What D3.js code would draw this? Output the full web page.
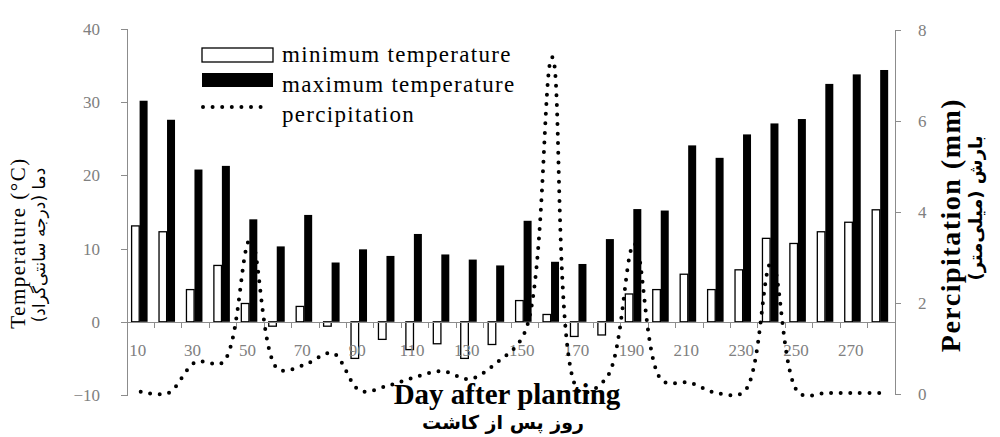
<!DOCTYPE html>
<html lang="en">
<head>
  <meta charset="UTF-8">
  <title>Temperature and Percipitation</title>
  <script src="https://d3js.org/d3.v7.min.js"></script>
  <style>
    body {
      margin: 0;
      background: #fff;
      font-family: "Liberation Serif", "Times New Roman", serif;
    }

    .axis path,
    .axis line {
      stroke: #8c8c8c;
      shape-rendering: crispEdges;
    }

    .axis text {
      font-family: "Liberation Serif", serif;
      font-size: 17px;
      fill: #808080;
    }

    .fa {
      font-family: "DejaVu Sans", sans-serif;
    }
  </style>
</head>
<body>
  <div id="chart"></div>

  <script>
    // Day after planting
    const categories = [10, 20, 30, 40, 50, 60, 70, 80, 90, 100, 110, 120, 130, 140,
                        150, 160, 170, 180, 190, 200, 210, 220, 230, 240, 250, 260, 270, 280];

    // Temperatures (°C)
    const minTemp = [13.1, 12.3, 4.4, 7.7, 2.5, -0.6, 2.1, -0.6, -5.0, -2.4, -3.8, -3.0, -5.0, -3.1,
                     2.9, 1.0, -2.0, -1.8, 3.8, 4.4, 6.5, 4.4, 7.1, 11.4, 10.7, 12.3, 13.6, 15.3];
    const maxTemp = [30.2, 27.6, 20.8, 21.3, 14.0, 10.3, 14.6, 8.1, 9.9, 9.0, 12.0, 9.2, 8.5, 7.7,
                     13.8, 8.2, 7.9, 11.3, 15.4, 15.2, 24.1, 22.4, 25.6, 27.1, 27.7, 32.5, 33.8, 34.4];

    // Percipitation (mm)
    const precip = [0.05, 0.02, 0.7, 0.7, 3.4, 0.55, 0.65, 0.9, 0.07, 0.18, 0.37, 0.5, 0.33, 0.7,
                    1.35, 7.4, 0.05, 0.37, 3.3, 0.3, 0.25, 0.02, 0.05, 2.9, 0.02, 0.02, 0.02, 0.02];

    // Tick labels
    const tempTicks = [-10, 0, 10, 20, 30, 40];
    const precipTicks = [0, 2, 4, 6, 8];
    const dayLabels = [10, 30, 50, 70, 90, 110, 130, 150, 170, 190, 210, 230, 250, 270];

    const width = 1000;
    const height = 437;
    const plot = { left: 127, right: 895, top: 29, bottom: 395 };

    const svg = d3.select("#chart")
                  .append("svg")
                  .attr("width", width)
                  .attr("height", height);

    // Scales
    const x = d3.scaleBand()
                .domain(categories)
                .range([plot.left, plot.right])
                .padding(0);

    const xSub = d3.scaleBand()
                   .domain(["min", "max"])
                   .range([4.6, 20.6]);

    const yTemp = d3.scaleLinear()
                    .domain([-10, 40])
                    .range([plot.bottom, plot.top]);

    const yPrec = d3.scaleLinear()
                    .domain([0, 8])
                    .range([plot.bottom - 1, plot.top + 1]);

    const rows = categories.map((c, i) => ({ day: c, min: minTemp[i], max: maxTemp[i], p: precip[i] }));

    // Bars
    const groups = svg.append("g")
       .selectAll("g")
       .data(rows)
       .enter()
       .append("g")
       .attr("transform", d => `translate(${x(d.day)},0)`);

    groups.append("rect")
       .attr("x", xSub("min"))
       .attr("width", xSub.bandwidth() - 0.4)
       .attr("y", d => yTemp(Math.max(0, d.min)))
       .attr("height", d => Math.abs(yTemp(d.min) - yTemp(0)))
       .attr("fill", "#fff")
       .attr("stroke", "#000")
       .attr("stroke-width", 1.3);

    groups.append("rect")
       .attr("x", xSub("max"))
       .attr("width", xSub.bandwidth())
       .attr("y", d => yTemp(Math.max(0, d.max)))
       .attr("height", d => Math.abs(yTemp(d.max) - yTemp(0)))
       .attr("fill", "#000");

    // Left axis
    svg.append("g")
       .attr("class", "axis")
       .attr("transform", `translate(${plot.left},0)`)
       .call(d3.axisLeft(yTemp).tickValues(tempTicks).tickSize(6).tickPadding(21).tickSizeOuter(6));

    // Right axis
    svg.append("g")
       .attr("class", "axis")
       .attr("transform", `translate(${plot.right},0)`)
       .call(d3.axisRight(yPrec).tickValues(precipTicks).tickSize(6).tickPadding(17).tickSizeOuter(6));

    // X axis at zero, labels every other day
    const xAxis = svg.append("g")
       .attr("class", "axis")
       .attr("transform", `translate(0,${yTemp(0)})`)
       .call(d3.axisBottom(x).tickValues(dayLabels).tickSize(0).tickSizeOuter(0).tickPadding(22));
    xAxis.selectAll(".tick text").attr("dx", "-3");

    // tick marks on category boundaries
    xAxis.selectAll(".bound")
       .data(categories.slice(1))
       .enter()
       .append("line")
       .attr("class", "bound")
       .attr("x1", d => x(d))
       .attr("x2", d => x(d))
       .attr("y1", 0)
       .attr("y2", 6);

    // Percipitation line (dotted, smoothed)
    const line = d3.line()
                   .x(d => x(d.day) + x.bandwidth() / 2)
                   .y(d => yPrec(d.p))
                   .curve(d3.curveCatmullRom);

    svg.append("path")
       .datum(rows)
       .attr("d", line)
       .attr("fill", "none")
       .attr("stroke", "#000")
       .attr("stroke-width", 4)
       .attr("stroke-linecap", "round")
       .attr("stroke-dasharray", "0 9.6");

    // Legend
    const legend = svg.append("g");
    legend.append("rect")
       .attr("x", 202).attr("y", 48).attr("width", 71).attr("height", 14)
       .attr("fill", "#fff").attr("stroke", "#000").attr("stroke-width", 1.3);
    legend.append("rect")
       .attr("x", 202).attr("y", 73).attr("width", 71).attr("height", 14)
       .attr("fill", "#000");
    legend.append("line")
       .attr("x1", 203).attr("x2", 270).attr("y1", 107).attr("y2", 107)
       .attr("stroke", "#000").attr("stroke-width", 4)
       .attr("stroke-linecap", "round").attr("stroke-dasharray", "0 9.6");

    const legendText = ["minimum temperature", "maximum temperature", "percipitation"];
    legend.selectAll(".lt")
       .data(legendText)
       .enter()
       .append("text")
       .attr("x", 282)
       .attr("y", (d, i) => 62 + i * 30)
       .style("font-size", "23px")
       .style("letter-spacing", "1.3px")
       .style("fill", "#000")
       .text(d => d);

    // Left axis title
    svg.append("text")
       .attr("transform", "translate(18,243) rotate(-90)")
       .attr("dy", "0.35em")
       .attr("text-anchor", "middle")
       .style("font-size", "21px")
       .style("letter-spacing", "1.5px")
       .text("Temperature (°C)");
    svg.append("text")
       .attr("class", "fa")
       .attr("transform", "translate(39,245) rotate(-90)")
       .attr("dy", "0.35em")
       .attr("text-anchor", "middle")
       .style("font-size", "17px")
       .text("دما (درجه سانتی‌گراد)");

    // Right axis title
    svg.append("text")
       .attr("transform", "translate(950,225) rotate(-90)")
       .attr("dy", "0.35em")
       .attr("text-anchor", "middle")
       .style("font-size", "28px")
       .style("font-weight", "bold")
       .style("letter-spacing", "1.5px")
       .text("Percipitation (mm)");
    svg.append("text")
       .attr("class", "fa")
       .attr("transform", "translate(976,208) rotate(-90)")
       .attr("dy", "0.35em")
       .attr("text-anchor", "middle")
       .style("font-size", "18px")
       .style("font-weight", "bold")
       .text("بارش (میلی‌متر)");

    // X axis title
    svg.append("text")
       .attr("x", 507)
       .attr("y", 404)
       .attr("text-anchor", "middle")
       .style("font-size", "29px")
       .style("font-weight", "bold")
       .text("Day after planting");
    svg.append("text")
       .attr("class", "fa")
       .attr("x", 503)
       .attr("y", 429)
       .attr("text-anchor", "middle")
       .style("font-size", "19px")
       .style("font-weight", "bold")
       .text("روز پس از کاشت");
  </script>
</body>
</html>
